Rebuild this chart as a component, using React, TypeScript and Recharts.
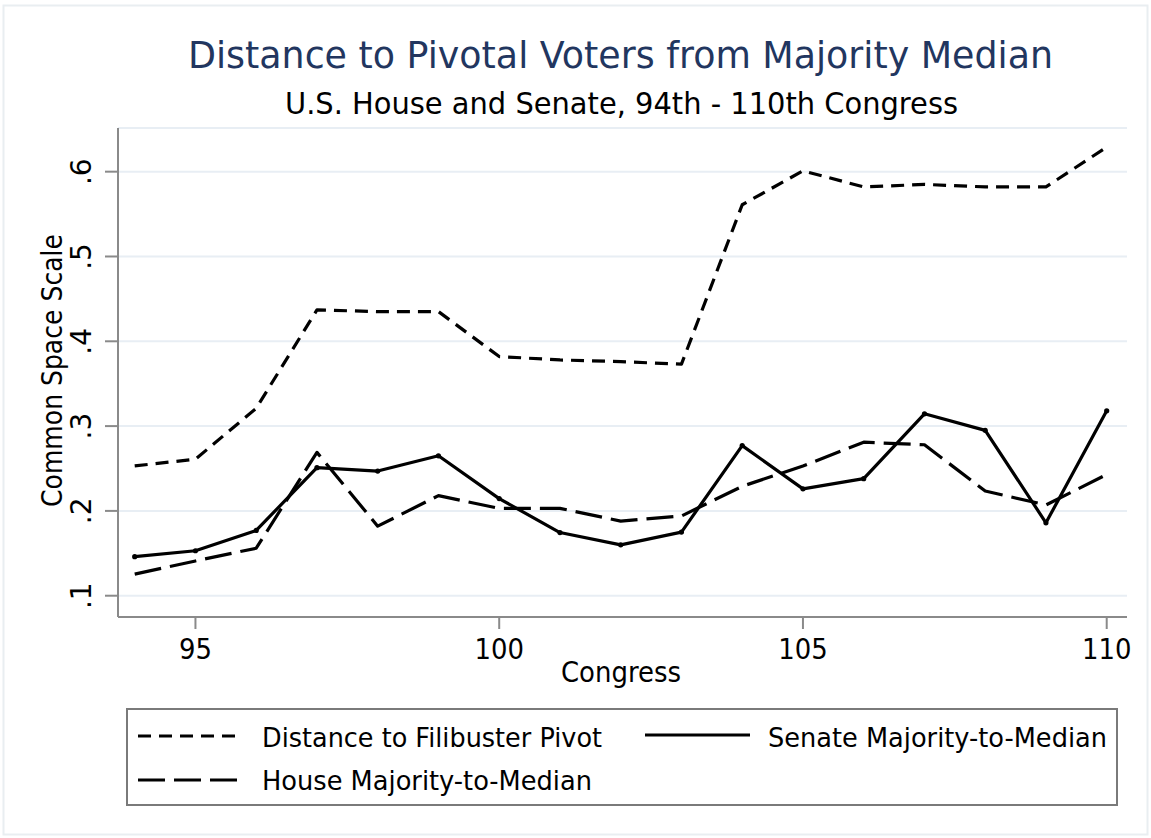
import React from "react";
import { LineChart, Line, XAxis, YAxis, CartesianGrid } from "recharts";

// Congress numbers on the horizontal axis
const congresses = [94, 95, 96, 97, 98, 99, 100, 101, 102, 103, 104, 105, 106, 107, 108, 109, 110];

// Distance from the majority median to each pivot (common space scale)
const filibusterPivot = [0.253, 0.261, 0.321, 0.437, 0.435, 0.435, 0.382, 0.378, 0.376, 0.373, 0.561, 0.601, 0.582, 0.585, 0.582, 0.582, 0.629];
const senateMajority = [0.146, 0.153, 0.177, 0.251, 0.247, 0.265, 0.2145, 0.1745, 0.16, 0.175, 0.277, 0.226, 0.238, 0.3145, 0.295, 0.186, 0.318];
const houseMajority = [0.1255, 0.141, 0.156, 0.269, 0.182, 0.218, 0.203, 0.203, 0.188, 0.194, 0.229, 0.253, 0.281, 0.278, 0.2235, 0.207, 0.243];

const xTicks = [95, 100, 105, 110];
const yTicks = [0.1, 0.2, 0.3, 0.4, 0.5, 0.6];
const yTickLabels = [".1", ".2", ".3", ".4", ".5", ".6"];

const chartTitle = "Distance to Pivotal Voters from Majority Median";
const chartSubtitle = "U.S. House and Senate, 94th - 110th Congress";
const xTitle = "Congress";
const yTitle = "Common Space Scale";
const seriesNames = {
  filibuster: "Distance to Filibuster Pivot",
  senate: "Senate Majority-to-Median",
  house: "House Majority-to-Median",
};

const data = congresses.map((c, i) => ({
  congress: c,
  filibuster: filibusterPivot[i],
  senate: senateMajority[i],
  house: houseMajority[i],
}));

const FONT = "'DejaVu Sans', 'Open Sans', sans-serif";
const AXIS = "#8a8a8a";
const GRID = "#e8eef4";
const SHORT_DASH = "13 8";
const LONG_DASH = "27 9";
const LINE_W = 3.2;

const XTick = (props: any) => {
  const { x, y, payload } = props;
  return (
    <text x={x} y={y + 30} textAnchor="middle" fontFamily={FONT} fontSize={28} fill="#000"
      textLength={String(payload.value).length * 16.5} lengthAdjust="spacingAndGlyphs">
      {payload.value}
    </text>
  );
};

const YTick = (props: any) => {
  const { x, y, payload } = props;
  const idx = yTicks.findIndex((t) => Math.abs(t - payload.value) < 1e-6);
  const label = idx >= 0 ? yTickLabels[idx] : String(payload.value);
  const bx = x - 14;
  return (
    <text
      x={bx}
      y={y}
      transform={`rotate(-90, ${bx}, ${y})`}
      textAnchor="middle"
      fontFamily={FONT}
      fontSize={28}
      fill="#000"
    >
      {label}
    </text>
  );
};

const SenateDot = (props: any) => {
  const { cx, cy } = props;
  return <circle cx={cx} cy={cy} r={2.6} fill="#000" />;
};

export default function App() {
  return (
    <div style={{ position: "absolute", left: 0, top: 0, width: 1151, height: 838, background: "#fff" }}>
      <LineChart
        width={1151}
        height={838}
        data={data}
        margin={{ top: 128, right: 24, bottom: 181, left: 58 }}
      >
        <CartesianGrid vertical={false} stroke={GRID} strokeWidth={2} />
        <XAxis
          dataKey="congress"
          type="number"
          domain={[93.725, 110.334]}
          allowDataOverflow
          ticks={xTicks}
          height={40}
          tickSize={12}
          tickMargin={0}
          tick={<XTick />}
          axisLine={{ stroke: AXIS, strokeWidth: 2 }}
          tickLine={{ stroke: AXIS, strokeWidth: 2 }}
        />
        <YAxis
          type="number"
          domain={[0.0749, 0.6515]}
          allowDataOverflow
          ticks={yTicks}
          width={60}
          tickSize={13}
          tickMargin={0}
          tick={<YTick />}
          axisLine={{ stroke: AXIS, strokeWidth: 2 }}
          tickLine={{ stroke: AXIS, strokeWidth: 2 }}
        />
        <Line
          type="linear"
          dataKey="filibuster"
          name={seriesNames.filibuster}
          stroke="#000"
          strokeWidth={LINE_W}
          strokeDasharray={SHORT_DASH}
          strokeLinejoin="round"
          dot={false}
          isAnimationActive={false}
        />
        <Line
          type="linear"
          dataKey="house"
          name={seriesNames.house}
          stroke="#000"
          strokeWidth={LINE_W}
          strokeDasharray={LONG_DASH}
          strokeLinejoin="round"
          dot={false}
          isAnimationActive={false}
        />
        <Line
          type="linear"
          dataKey="senate"
          name={seriesNames.senate}
          stroke="#000"
          strokeWidth={LINE_W}
          strokeLinejoin="round"
          dot={<SenateDot />}
          isAnimationActive={false}
        />
      </LineChart>

      <svg
        width={1151}
        height={838}
        style={{ position: "absolute", left: 0, top: 0, pointerEvents: "none" }}
      >
        <rect x={3.5} y={5.5} width={1144} height={829} fill="none" stroke="#e9eef1" strokeWidth={2} />

        <text x={620.5} y={68} textAnchor="middle" fontFamily={FONT} fontSize={38} fill="#22365f"
          textLength={865} lengthAdjust="spacingAndGlyphs">
          {chartTitle}
        </text>
        <text x={621.5} y={114} textAnchor="middle" fontFamily={FONT} fontSize={30} fill="#000"
          textLength={673} lengthAdjust="spacingAndGlyphs">
          {chartSubtitle}
        </text>

        <text x={621} y={682} textAnchor="middle" fontFamily={FONT} fontSize={28} fill="#000"
          textLength={120} lengthAdjust="spacingAndGlyphs">
          {xTitle}
        </text>
        <text x={61.5} y={370.5} transform="rotate(-90, 61.5, 370.5)" textAnchor="middle" fontFamily={FONT}
          fontSize={29} fill="#000" textLength={273} lengthAdjust="spacingAndGlyphs">
          {yTitle}
        </text>

        {/* legend */}
        <rect x={127} y={709} width={990} height={96} fill="none" stroke="#7a7a7a" strokeWidth={2} />
        <line x1={138} y1={736} x2={243} y2={736} stroke="#000" strokeWidth={LINE_W} strokeDasharray={SHORT_DASH} />
        <text x={262} y={747} fontFamily={FONT} fontSize={27} fill="#000" textLength={340} lengthAdjust="spacingAndGlyphs">
          {seriesNames.filibuster}
        </text>
        <line x1={645} y1={735} x2={750} y2={735} stroke="#000" strokeWidth={LINE_W} />
        <text x={768} y={747} fontFamily={FONT} fontSize={27} fill="#000" textLength={339} lengthAdjust="spacingAndGlyphs">
          {seriesNames.senate}
        </text>
        <line x1={138} y1={780} x2={243} y2={780} stroke="#000" strokeWidth={LINE_W} strokeDasharray={LONG_DASH} />
        <text x={262} y={790} fontFamily={FONT} fontSize={27} fill="#000" textLength={330} lengthAdjust="spacingAndGlyphs">
          {seriesNames.house}
        </text>
      </svg>
    </div>
  );
}
